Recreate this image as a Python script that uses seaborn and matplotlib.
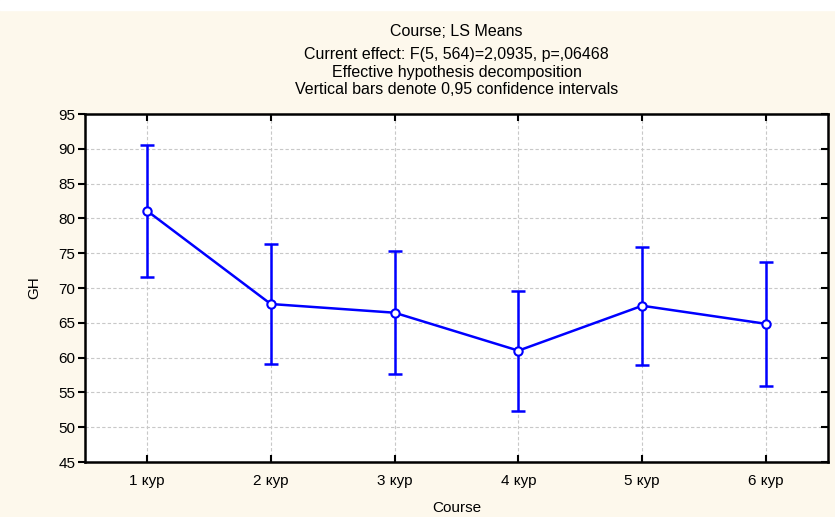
import matplotlib
matplotlib.use("Agg")
import matplotlib.pyplot as plt
import seaborn as sns
import pandas as pd

# LS means of GH by course with 0.95 confidence limits
courses = ["1 кур", "2 кур", "3 кур", "4 кур", "5 кур", "6 кур"]
gh_mean = [81.1, 67.7, 66.45, 61.0, 67.45, 64.85]
ci_lower = [71.6, 59.1, 57.7, 52.3, 59.0, 55.9]
ci_upper = [90.6, 76.3, 75.3, 69.6, 75.9, 73.8]
y_ticks = [45, 50, 55, 60, 65, 70, 75, 80, 85, 90, 95]

title_lines = [
    "Course; LS Means",
    "Current effect: F(5, 564)=2,0935, p=,06468",
    "Effective hypothesis decomposition",
    "Vertical bars denote 0,95 confidence intervals",
]

sns.set_theme(style="white")
plt.rcParams["font.family"] = ["Liberation Sans", "DejaVu Sans"]

bg = "#FDF8EC"
blue = "#0000FF"

fig = plt.figure(figsize=(8.35, 5.17), dpi=100, facecolor=bg)
# white strip along the upper edge
fig.patches.append(plt.Rectangle((0, 1 - 10 / 517), 1, 10 / 517,
                                 transform=fig.transFigure, color="white", zorder=-1))

W, H = 835, 517
left, right, top, bottom = 85, 828, 114, 462
ax = fig.add_axes([left / W, 1 - bottom / H, (right - left) / W, (bottom - top) / H])
ax.set_facecolor("white")

df = pd.DataFrame({"pos": range(len(courses)), "GH": gh_mean})
yerr = [[m - lo for m, lo in zip(gh_mean, ci_lower)],
        [hi - m for m, hi in zip(gh_mean, ci_upper)]]
ax.errorbar(df["pos"], df["GH"], yerr=yerr, fmt="none", ecolor=blue,
            elinewidth=1.8, capsize=5, capthick=1.8, zorder=3)
sns.lineplot(data=df, x="pos", y="GH", ax=ax, color=blue, linewidth=1.8,
             marker="o", markersize=6, markerfacecolor="white",
             markeredgecolor=blue, markeredgewidth=1.5, zorder=4)

ax.set_xlim(-0.5, len(courses) - 0.5)
ax.set_ylim(45, 95)
ax.set_xticks(range(len(courses)))
ax.set_xticklabels(courses)
ax.set_yticks(y_ticks)

ax.grid(True, color="#C8C8C8", linestyle=(0, (3, 2)), linewidth=0.8)
for s in ax.spines.values():
    s.set_visible(True)
    s.set_color("black")
    s.set_linewidth(1.8)

ax.tick_params(axis="y", left=True, right=False, direction="out",
               length=5, width=1.5, color="black", labelsize=11, labelcolor="black", pad=2)
ax.tick_params(axis="x", bottom=True, top=True, direction="in", length=5, width=1.5,
               color="black", labelsize=11, labelcolor="black", pad=9)

# inward ticks along the right spine
ax_r = ax.twinx()
ax_r.set_ylim(ax.get_ylim())
ax_r.set_yticks(y_ticks)
ax_r.tick_params(axis="y", right=True, labelright=False, direction="in",
                 length=5, width=1.5, color="black")
ax_r.grid(False)
for s in ax_r.spines.values():
    s.set_visible(False)

ax.set_xlabel("Course", fontsize=11, color="black", labelpad=9)
ax.set_ylabel("GH", fontsize=11, color="black", labelpad=12)

ys = [32, 55, 72, 89]
for txt, yy in zip(title_lines, ys):
    fig.text(0.5 * (left + right) / W, 1 - yy / H, txt, ha="center", va="center",
             fontsize=11.5, color="black")

fig.savefig("out.png", dpi=100, facecolor=bg)
